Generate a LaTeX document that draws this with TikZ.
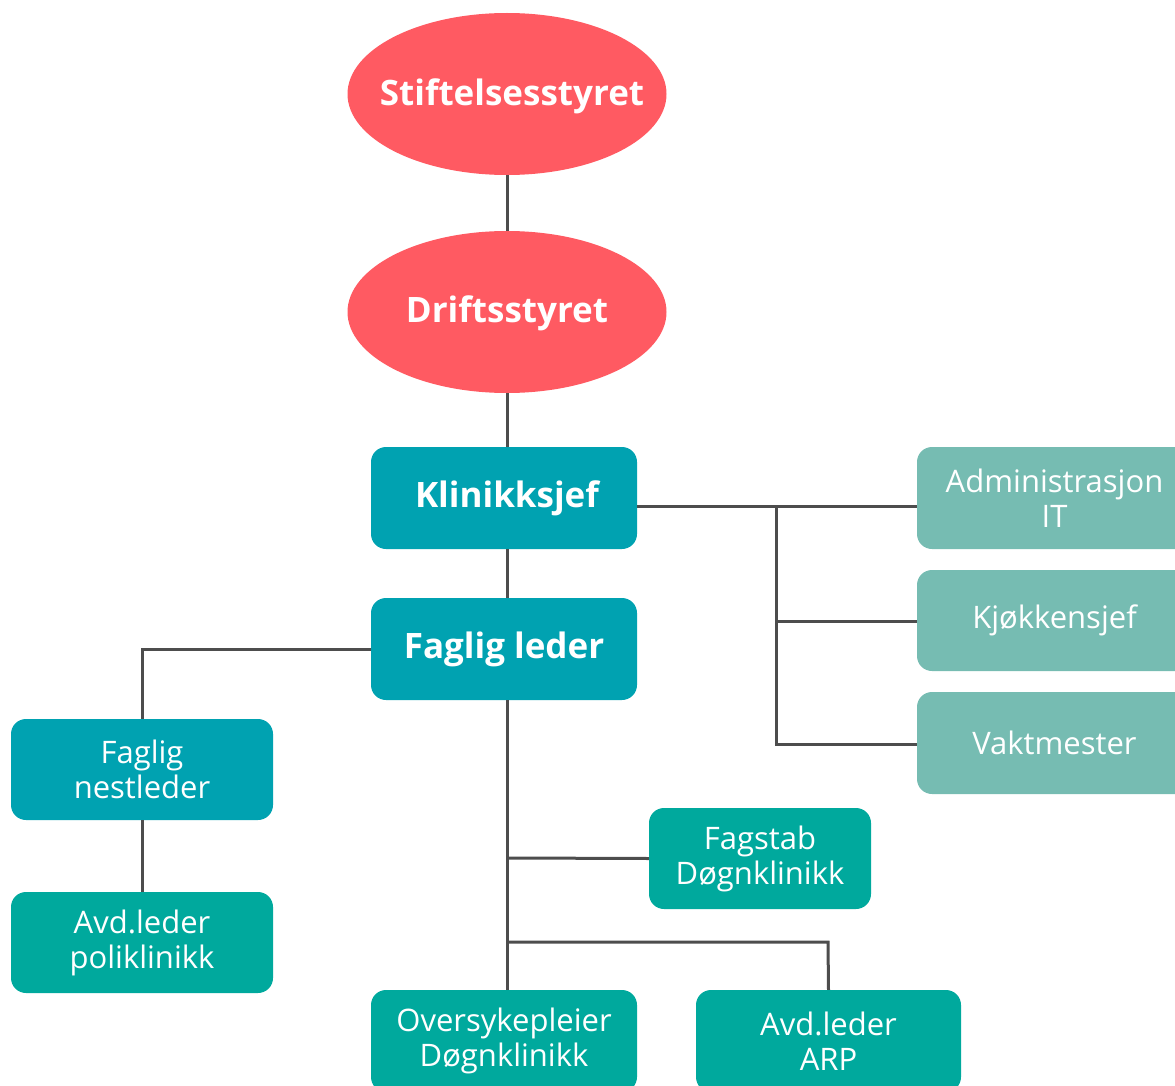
\documentclass[tikz,border=0pt]{standalone}
\usepackage{fontspec}
\setmainfont{Open Sans}
\usetikzlibrary{shapes.geometric}
\definecolor{redc}{HTML}{FF5A62}
\definecolor{bluec}{HTML}{00A2B1}
\definecolor{greenc}{HTML}{00A99D}
\definecolor{lightc}{HTML}{76BCB2}
\definecolor{linec}{HTML}{4D4D4D}
\begin{document}
\begin{tikzpicture}[x=1pt,y=-1pt,
  ell/.style={ellipse,fill=redc,minimum width=319pt,minimum height=162pt,inner sep=0pt},
  elltext/.style={text=white,font=\fontsize{35}{40}\selectfont\bfseries},
  box/.style={rectangle,rounded corners=15pt,text=white,inner sep=0pt,align=center,font=\fontsize{31}{35}\selectfont},
  boldbox/.style={box,fill=bluec,minimum width=266pt,minimum height=102pt,font=\fontsize{35}{40}\selectfont\bfseries},
  conn/.style={draw=linec,line width=3pt}]
\useasboundingbox (0,0) rectangle (1175,1086);
\node[ell,label={[elltext,xshift=5pt,yshift=-2pt]center:Stiftelsesstyret}] (stift) at (507,94) {};
\node[ell,label={[elltext,yshift=-1pt]center:Driftsstyret}] (drift) at (507,312) {};
\node[boldbox] (klin) at (504,498) {\hspace*{6pt}Klinikksjef};
\node[boldbox] (fag) at (504,649) {Faglig leder};
\node[box,fill=lightc,minimum width=275pt,minimum height=102pt] (adm) at (1054.5,498) {Administrasjon\\IT};
\node[box,fill=lightc,minimum width=275pt,minimum height=101pt] (kjok) at (1054.5,620.5) {\raisebox{-3pt}{Kjøkkensjef}};
\node[box,fill=lightc,minimum width=275pt,minimum height=102pt] (vakt) at (1054.5,743) {Vaktmester};
\node[box,fill=bluec,minimum width=262pt,minimum height=101pt] (nest) at (142,769.5) {Faglig\\nestleder};
\node[box,fill=greenc,minimum width=262pt,minimum height=101pt] (poli) at (142,942.5) {Avd.leder\\poliklinikk};
\node[box,fill=greenc,minimum width=222pt,minimum height=101pt] (fagstab) at (760,858.5) {Fagstab\\Døgnklinikk};
\node[box,fill=greenc,minimum width=266pt,minimum height=102pt] (over) at (504,1041) {Oversykepleier\\Døgnklinikk};
\node[box,fill=greenc,minimum width=265pt,minimum height=102pt] (arp) at (828.5,1041) {Avd.leder\\ARP};
\coordinate (rv) at (776,506);
\draw[conn] (stift.south) -- (drift.north);
\draw[conn] (drift.south) -- (507,447);
\draw[conn] (507,549) -- (507,598);
\draw[conn] (klin.east |- 0,506) -- (adm.west |- 0,506);
\draw[conn] (rv) -- (776,744) -- (vakt.west |- 0,744);
\draw[conn] (776,621) -- (kjok.west |- 0,621);
\draw[conn] (fag.west |- 0,649) -- (142,649) -- (nest.north);
\draw[conn] (nest.south) -- (poli.north);
\draw[conn] (507,700) -- (507,990);
\draw[conn] (507,858) -- (fagstab.west);
\draw[conn] (507,942) -- (828,942) -- (arp.north);
\end{tikzpicture}
\end{document}
